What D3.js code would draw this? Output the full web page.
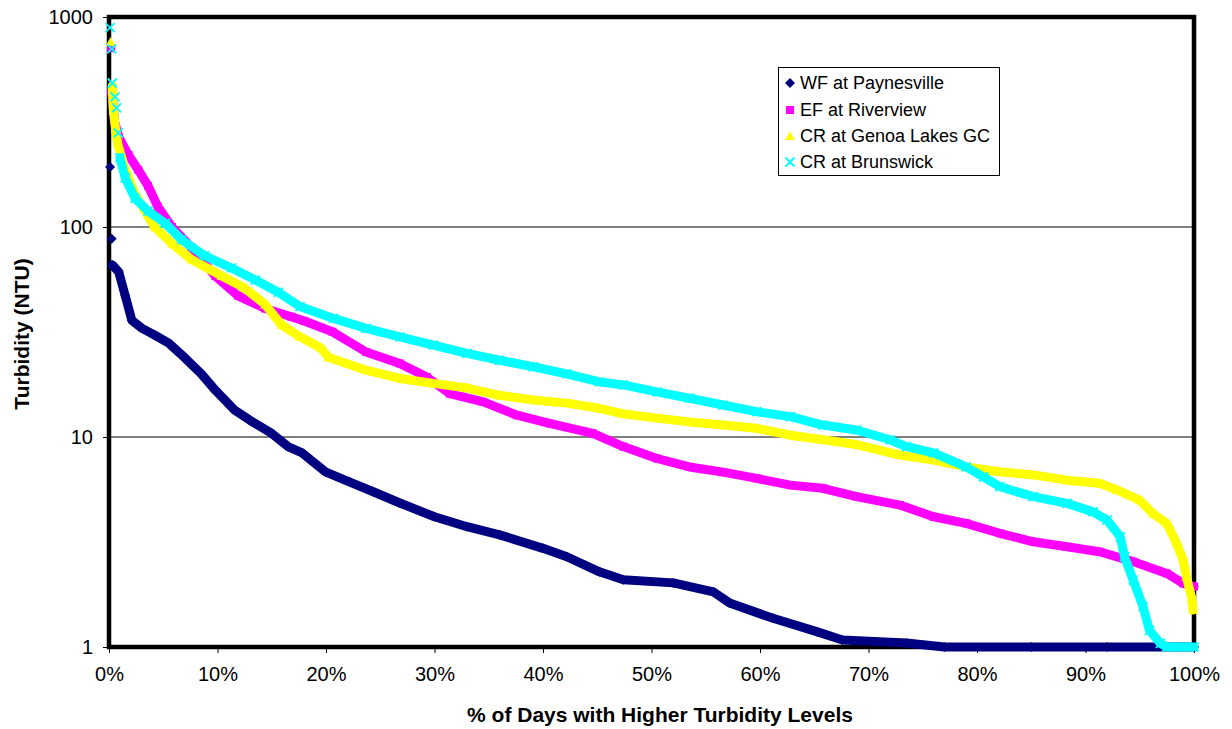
<!DOCTYPE html>
<html>
<head>
<meta charset="utf-8">
<script src="https://cdn.jsdelivr.net/npm/d3@7"></script>
<style>
  html, body { margin: 0; padding: 0; background: #fff; }
  svg { display: block; font-family: "Liberation Sans", Arial, sans-serif; }
</style>
</head>
<body>
<svg id="chart" width="1232" height="729"></svg>
<script>
// ---- Data (percent of days, turbidity NTU) ----
const seriesNames = ["WF at Paynesville", "EF at Riverview", "CR at Genoa Lakes GC", "CR at Brunswick"];
const xTickLabels = ["0%","10%","20%","30%","40%","50%","60%","70%","80%","90%","100%"];
const xTickValues = [0,10,20,30,40,50,60,70,80,90,100];
const yTickValues = [1,10,100,1000];
const yTickLabels = ["1","10","100","1000"];

const wfPeaks = [[0.1,193],[0.25,88]];
const wfBand = [[0.3,66],[0.9,61],[1.5,47],[2.1,36],[3,33],[4.2,30.6],[5.5,28],[7,23.8],[8.5,20],[9.8,16.7],[11.6,13.4],[13,12],[15,10.4],[16.5,9],[17.8,8.4],[20,6.8],[22.2,6.1],[24.3,5.5],[26.8,4.85],[30,4.17],[33,3.74],[36,3.42],[40,2.95],[42.2,2.69],[45.2,2.28],[47.4,2.09],[52,2.02],[55.7,1.83],[57.2,1.62],[61.2,1.37],[65.3,1.18],[67.6,1.08],[73.5,1.045],[77,1.0],[85,1.0],[92,1.0],[100,1.0]];

const efPeaks = [[0.2,710]];
const efBand = [[0.25,440],[0.4,370],[0.5,320],[0.9,268],[1.8,220],[2.7,187],[3.6,157],[4.5,125],[5.8,100],[7.6,80],[9.8,58.4],[11.9,47],[14.4,40.9],[16.8,37.4],[18,35.7],[20.6,31.7],[23.7,25.4],[26.8,22.4],[29.3,19.3],[31.4,16.1],[34.5,14.7],[37.6,12.7],[40.6,11.6],[44.6,10.4],[47.4,9.0],[50.5,7.9],[53.5,7.2],[56.6,6.8],[59.7,6.35],[62.8,5.9],[65.8,5.7],[68.9,5.2],[72.9,4.74],[76,4.17],[79,3.88],[82.1,3.48],[85.2,3.17],[88.3,3.0],[91.3,2.84],[94.4,2.55],[97.5,2.24],[99,2.01],[100,1.94]];

const glPeaks = [[0.15,760]];
const glBand = [[0.3,470],[0.4,360],[0.6,295],[0.8,250],[1.5,187],[2.4,143],[4.2,100],[5.8,83.5],[7.6,70],[10.4,58.4],[12.5,51.2],[14.4,42.7],[15.9,34.2],[17.6,30],[19.5,26.6],[20.2,24],[23.7,20.8],[26.8,19],[29.9,18],[33,17.1],[36,15.8],[39.1,15],[42.2,14.5],[45.2,13.7],[47.4,12.9],[50.5,12.3],[53.5,11.8],[56.6,11.4],[59.7,11],[62.8,10.2],[65.8,9.7],[68.9,9.2],[72.9,8.2],[76,7.77],[79,7.2],[82.1,6.83],[85.2,6.6],[88.3,6.23],[91.3,6.02],[92.9,5.6],[95,5.0],[96.2,4.33],[97.5,3.88],[98.4,3.11],[99,2.6],[99.3,2.16],[99.8,1.7],[99.9,1.5]];

const brPeaks = [[0.1,890],[0.25,705],[0.3,485],[0.55,417],[0.7,369],[0.85,281]];
const brBand = [[1.0,214],[1.5,171],[2.4,137],[3.6,119],[5.2,104],[6.7,87],[8.8,73],[11.3,63.8],[13.5,55.9],[15.6,48.9],[17.6,41.8],[20.7,36.7],[23.7,32.9],[26.8,30],[29.9,27.4],[33,25],[36,23.2],[39.1,21.6],[42.2,20],[45.2,18.3],[47.4,17.7],[50.5,16.4],[53.5,15.3],[56.6,14.2],[59.7,13.2],[62.8,12.5],[65.8,11.4],[68.9,10.8],[72,9.7],[73.5,9.0],[76,8.4],[79,7.2],[80.6,6.46],[82.1,5.8],[85.2,5.2],[88.3,4.83],[90.7,4.4],[92,4.02],[93.2,3.35],[93.6,2.69],[94.4,2.08],[95.3,1.56],[95.9,1.2],[96.9,1.04],[97.5,1.0],[100,1.0]];

// ---- Layout ----
const svg = d3.select("#chart");
const pLeft = 109, pRight = 1194, pTop = 17, pBottom = 647;
const x = d3.scaleLinear().domain([0,100]).range([pLeft,pRight]);
const y = d3.scaleLog().domain([1,1000]).range([pBottom,pTop]);

// marker shapes (relative to centre)
const shapes = {
  diamond: "M0,-5L5,0L0,5L-5,0Z",
  square: "M-4,-4H4V4H-4Z",
  triangle: "M0,-5L5,4L-5,4Z",
  cross: "M-4.5,-4.5L4.5,4.5M-4.5,4.5L4.5,-4.5"
};

const styles = [
  {color:"#000080", shape:"diamond", band:wfBand, peaks:wfPeaks},
  {color:"#FF00FF", shape:"square", band:efBand, peaks:efPeaks},
  {color:"#FFFF00", shape:"triangle", band:glBand, peaks:glPeaks},
  {color:"#00FFFF", shape:"cross", band:brBand, peaks:brPeaks}
];

// gridlines
svg.append("g").selectAll("line").data([10,100]).join("line")
  .attr("x1", pLeft).attr("x2", pRight)
  .attr("y1", d=>y(d)).attr("y2", d=>y(d))
  .attr("stroke", "#000").attr("stroke-width", 1);

// axes
const yAxis = d3.axisLeft(y).tickValues(yTickValues).tickFormat((d,i)=>yTickLabels[i]).tickSize(6).tickPadding(10);
const gy = svg.append("g").attr("transform", `translate(${pLeft},0)`).call(yAxis);
gy.select(".domain").remove();
gy.selectAll("text").attr("font-size", 20).attr("fill", "#000").attr("font-family", "Liberation Sans, Arial, sans-serif");
gy.selectAll("line").attr("stroke", "#000");

const xAxis = d3.axisBottom(x).tickValues(xTickValues).tickFormat((d,i)=>xTickLabels[i]).tickSize(6).tickPadding(14);
const gx = svg.append("g").attr("transform", `translate(0,${pBottom})`).call(xAxis);
gx.select(".domain").remove();
gx.selectAll("text").attr("font-size", 20).attr("fill", "#000").attr("font-family", "Liberation Sans, Arial, sans-serif");
gx.selectAll("line").attr("stroke", "#000");

// plot border (thick)
svg.append("rect").attr("x", pLeft).attr("y", pTop).attr("width", pRight-pLeft).attr("height", pBottom-pTop)
  .attr("fill", "none").attr("stroke", "#000").attr("stroke-width", 4.5);

// series
const line = d3.line().x(d=>x(d[0])).y(d=>y(d[1]));
function drawMarkers(g, s, pts) {
  const isCross = s.shape === "cross";
  g.selectAll(null).data(pts).join("path")
    .attr("transform", d=>`translate(${x(d[0])},${y(d[1])})`)
    .attr("d", shapes[s.shape])
    .attr("fill", isCross ? "none" : s.color)
    .attr("stroke", isCross ? s.color : "none")
    .attr("stroke-width", isCross ? 1.8 : 0);
}
styles.forEach(s => {
  const g = svg.append("g");
  g.append("path").datum(s.band).attr("d", line)
    .attr("fill", "none").attr("stroke", s.color).attr("stroke-width", 9)
    .attr("stroke-linejoin", "round").attr("stroke-linecap", "round");
  drawMarkers(g, s, s.band);
  drawMarkers(g, s, s.peaks);
});

// axis titles
svg.append("text").attr("x", 660).attr("y", 722).attr("text-anchor", "middle")
  .attr("font-size", 21).attr("font-weight", "bold").text("% of Days with Higher Turbidity Levels");
svg.append("text").attr("transform", "translate(29,334) rotate(-90)").attr("text-anchor", "middle")
  .attr("font-size", 21).attr("font-weight", "bold").text("Turbidity (NTU)");

// legend
const lg = svg.append("g");
lg.append("rect").attr("x", 778.5).attr("y", 67.5).attr("width", 221).attr("height", 108)
  .attr("fill", "#fff").attr("stroke", "#000").attr("stroke-width", 1);
const legendY = [83, 110, 136, 162];
seriesNames.forEach((name, i) => {
  const s = styles[i];
  const isCross = s.shape === "cross";
  lg.append("path").attr("transform", `translate(790,${legendY[i]})`)
    .attr("d", shapes[s.shape])
    .attr("fill", isCross ? "none" : s.color)
    .attr("stroke", isCross ? s.color : "none")
    .attr("stroke-width", isCross ? 1.8 : 0);
  lg.append("text").attr("x", 800).attr("y", legendY[i]+6).attr("font-size", 18).text(name);
});
</script>
</body>
</html>
